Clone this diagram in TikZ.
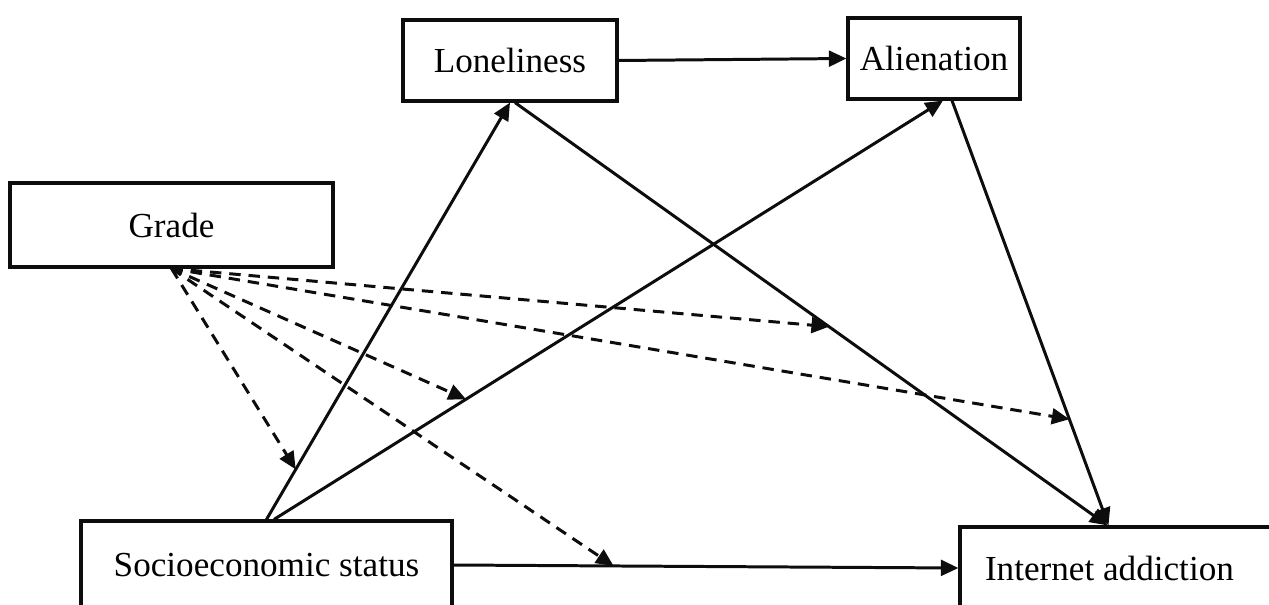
\documentclass[tikz,border=0pt]{standalone}
\usepackage{fontspec}
\setmainfont{Liberation Serif}
\usetikzlibrary{arrows.meta, calc}

\begin{document}
\begin{tikzpicture}[
    varbox/.style={draw=black!95, line width=1.8pt, inner sep=0pt, font=\fontsize{20}{24}\selectfont},
    effect/.style={draw=black!95, line width=1.7pt, -{Triangle[length=10pt,width=9pt]}},
    moder/.style={effect, dash pattern=on 6.5pt off 4.5pt}
  ]
\useasboundingbox (0,0) rectangle (25.38,-12.1);

\node [varbox, minimum width=4.28cm, minimum height=1.62cm] (lone)  at (10.2,-1.21) {Loneliness};
\node [varbox, minimum width=3.44cm, minimum height=1.62cm] (alien) at (18.68,-1.17) {Alienation};
\node [varbox, minimum width=6.46cm, minimum height=1.68cm] (grade) at (3.43,-4.5) {Grade};
\node [varbox, minimum width=7.42cm, minimum height=1.76cm] (ses)   at (5.33,-11.3) {Socioeconomic status};
\node [varbox, text width=5.9cm, inner xsep=0.5cm, minimum height=1.64cm, align=flush left] (ia) at (22.65,-11.36) {Internet addiction};

\draw [effect] (lone.east) -- (alien.west);
\draw [effect] (ses.north) -- coordinate[pos=0.12] (m1) (lone.south);
\draw [effect] ([xshift=0.15cm]ses.north) -- coordinate[pos=0.287] (m2) ([xshift=0.18cm]alien.south);
\draw [effect] ([xshift=0.1cm]lone.south) -- coordinate[pos=0.53] (m3) ([xshift=-0.5cm]ia.north);
\draw [effect] ([xshift=0.36cm]alien.south) -- coordinate[pos=0.75] (m4) ([xshift=-0.48cm]ia.north);
\draw [effect] (ses.east) -- coordinate[pos=0.317] (m5) (ia.west);

\draw [moder] (grade.south) -- (m1);
\draw [moder] (grade.south) -- (m2);
\draw [moder] (grade.south) -- (m3);
\draw [moder] (grade.south) -- (m4);
\draw [moder] (grade.south) -- (m5);
\end{tikzpicture}
\end{document}
